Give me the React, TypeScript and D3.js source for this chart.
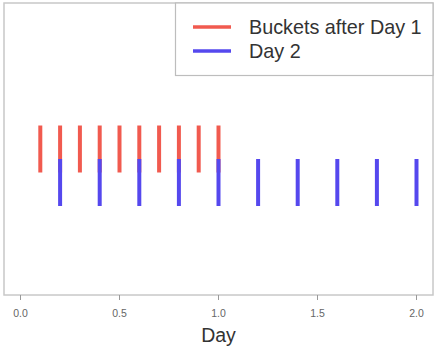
import React from "react";
import * as d3 from "d3";

const redValues = [0.1, 0.2, 0.3, 0.4, 0.5, 0.6, 0.7, 0.8, 0.9, 1.0];
const blueValues = [0.2, 0.4, 0.6, 0.8, 1.0, 1.2, 1.4, 1.6, 1.8, 2.0];
const tickValues = [0.0, 0.5, 1.0, 1.5, 2.0];
const seriesNames = ["Buckets after Day 1", "Day 2"];
const colors = ["#f15a4f", "#5548ee"];

export default function App() {
  const W = 440, H = 353;
  const x = d3.scaleLinear().domain([0, 2]).range([20.5, 416.5]);
  const left = 4, right = 433, top = 3, bottom = 295;
  return (
    <svg width={W} height={H} style={{ position: "absolute", left: 0, top: 0 }} fontFamily="Liberation Sans, Arial, sans-serif">
      <rect x={left} y={top} width={right - left} height={bottom - top} fill="white" stroke="#c8c8c8" strokeWidth={1.5} />
      {redValues.map((v, i) => (
        <line key={"r" + i} x1={x(v)} x2={x(v)} y1={125.5} y2={172.5} stroke={colors[0]} strokeWidth={4} />
      ))}
      {blueValues.map((v, i) => (
        <line key={"b" + i} x1={x(v)} x2={x(v)} y1={159} y2={206} stroke={colors[1]} strokeWidth={4} />
      ))}
      {tickValues.map((t, i) => (
        <g key={"t" + i}>
          <line x1={x(t)} x2={x(t)} y1={bottom} y2={300} stroke="#999" strokeWidth={1} />
          <text x={x(t)} y={317} textAnchor="middle" fontSize={10.5} fill="#666">{t.toFixed(1)}</text>
        </g>
      ))}
      <text x={218.5} y={342} textAnchor="middle" fontSize={19.5} fill="#333">Day</text>
      <rect x={175.5} y={top} width={right - 175.5} height={75.5 - top} fill="white" stroke="#bdbdbd" strokeWidth={1.2} />
      {seriesNames.map((n, i) => (
        <g key={"l" + i}>
          <line x1={193} x2={231} y1={27 + i * 24} y2={27 + i * 24} stroke={colors[i]} strokeWidth={3.5} />
          <text x={249} y={27 + i * 24 + 7} fontSize={19.8} fill="#333">{n}</text>
        </g>
      ))}
    </svg>
  );
}
